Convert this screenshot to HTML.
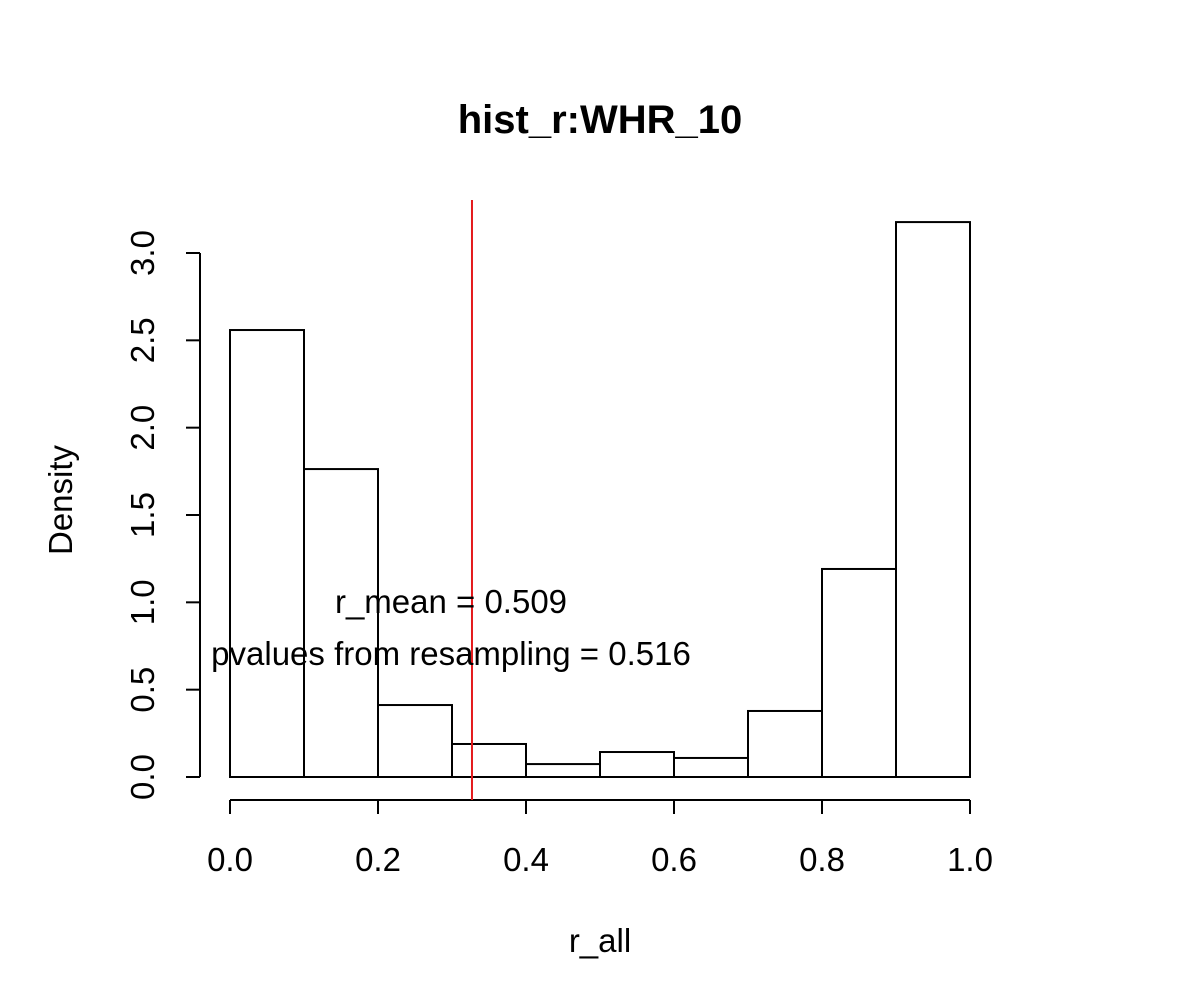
<!DOCTYPE html>
<html><head><meta charset="utf-8"><style>body{margin:0;background:#fff}svg{display:block}text{font-family:"Liberation Sans",sans-serif;fill:#000}</style></head>
<body>
<svg id="chart" width="1200" height="1000" xmlns="http://www.w3.org/2000/svg">
<text x="600" y="133" font-size="40" font-weight="bold" text-anchor="middle">hist_r:WHR_10</text>
<text x="600" y="952" font-size="33" text-anchor="middle">r_all</text>
<text transform="translate(72,500) rotate(-90)" font-size="33" text-anchor="middle">Density</text>
<g id="bars"></g><g id="axes"></g>
<text x="451" y="613" font-size="33" text-anchor="middle">r_mean = 0.509</text>
<text x="451" y="665" font-size="33" text-anchor="middle">pvalues from resampling = 0.516</text>
</svg>
<script>
const binStarts=[0,0.1,0.2,0.3,0.4,0.5,0.6,0.7,0.8,0.9];
const densities=[2.559,1.763,0.412,0.189,0.074,0.143,0.109,0.378,1.191,3.177];
const xTicks=[0,0.2,0.4,0.6,0.8,1.0];
const xTickLabels=["0.0","0.2","0.4","0.6","0.8","1.0"];
const yTicks=[0,0.5,1,1.5,2,2.5,3];
const yTickLabels=["0.0","0.5","1.0","1.5","2.0","2.5","3.0"];
const meanLine=0.327;
const binWidth=0.1;
const NS="http://www.w3.org/2000/svg";
const xs=v=>230+v*740, ys=v=>777-v*524/3;
function mk(tag,attrs,parent,txt){const e=document.createElementNS(NS,tag);for(const k in attrs)e.setAttribute(k,attrs[k]);if(txt!==undefined)e.textContent=txt;parent.appendChild(e);return e;}
const bars=document.getElementById('bars'),axes=document.getElementById('axes');
binStarts.forEach((b,i)=>{const r=mk('rect',{x:xs(b),y:ys(densities[i]),width:xs(b+binWidth)-xs(b),height:ys(0)-ys(densities[i]),fill:'none',stroke:'#000','stroke-width':2},bars);

});
const xa=mk('line',{x1:xs(0),x2:xs(1),y1:800,y2:800,stroke:'#000','stroke-width':2},axes);


xTicks.forEach((t,i)=>{mk('line',{x1:xs(t),x2:xs(t),y1:800,y2:814,stroke:'#000','stroke-width':2},axes);
const l=mk('text',{x:xs(t),y:871,'font-size':33,'text-anchor':'middle'},axes,xTickLabels[i]);

});
const ya=mk('line',{x1:200,x2:200,y1:ys(0),y2:ys(3),stroke:'#000','stroke-width':2},axes);


yTicks.forEach((t,i)=>{mk('line',{x1:186,x2:200,y1:ys(t),y2:ys(t),stroke:'#000','stroke-width':2},axes);
const l=mk('text',{transform:`translate(154,${ys(t)}) rotate(-90)`,'font-size':33,'text-anchor':'middle'},axes,yTickLabels[i]);

});
const ml=mk('line',{x1:xs(meanLine),x2:xs(meanLine),y1:200,y2:800,stroke:'#e41a1c','stroke-width':2},axes);


</script>
</body></html>
